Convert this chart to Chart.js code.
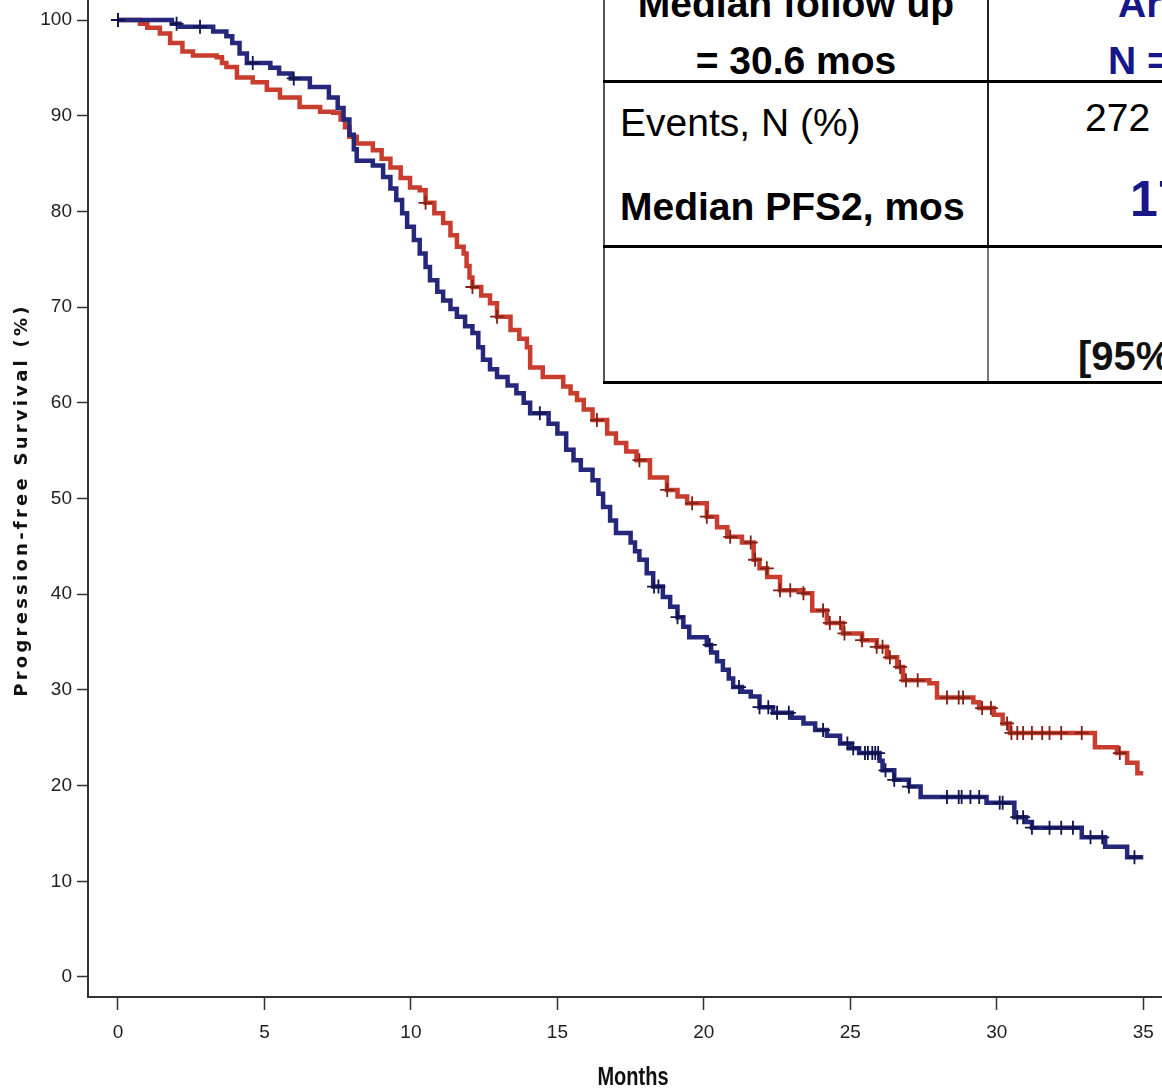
<!DOCTYPE html>
<html>
<head>
<meta charset="utf-8">
<script src="https://cdn.jsdelivr.net/npm/chart.js@4.4.1/dist/chart.umd.min.js"></script>
<style>
  html, body { margin: 0; padding: 0; background: #fff; overflow: hidden; }
  #wrap { position: relative; width: 1162px; height: 1091px; }
  #km { position: absolute; left: 0; top: 0; }
  /* summary table pasted over the top right of the plot */
  #tbl { position: absolute; left: 603px; top: 0; width: 559px; height: 385px;
         background: #fff; overflow: hidden; font-family: 'Liberation Sans', Arial, sans-serif; color: #000; }
  #tbl .ln { position: absolute; background: #000; }
  #tbl .tx { position: absolute; line-height: 1; white-space: nowrap; }
  #tbl .b { font-weight: bold; }
  #tbl .blue { color: #17178a; }
</style>
</head>
<body>
<div id="wrap">
  <canvas id="km" width="1162" height="1091"></canvas>
  <div id="tbl">
    <div class="ln" style="left:0;top:0;width:2px;height:384px;background:#555"></div>
    <div class="ln" style="left:384px;top:0;width:2px;height:247px;background:#222"></div>
    <div class="ln" style="left:384px;top:247px;width:2px;height:136px;background:#777"></div>
    <div class="ln" style="left:0;top:80px;width:559px;height:3px"></div>
    <div class="ln" style="left:0;top:245px;width:559px;height:3px"></div>
    <div class="ln" style="left:0;top:381px;width:559px;height:3px"></div>

    <div class="tx b" style="left:0;width:386px;text-align:center;top:-16px;font-size:39px">Median follow up</div>
    <div class="tx b" style="left:0;width:386px;text-align:center;top:41px;font-size:39px">= 30.6 mos</div>
    <div class="tx" style="left:17px;top:103px;font-size:39px">Events, N (%)</div>
    <div class="tx b" style="left:17px;top:187px;font-size:39px">Median PFS2, mos</div>

    <div class="tx b blue" style="left:515px;top:-16px;font-size:39px">Ar</div>
    <div class="tx b blue" style="left:505px;top:41px;font-size:39px">N =</div>
    <div class="tx" style="left:482px;top:98px;font-size:39px">272</div>
    <div class="tx b blue" style="left:527px;top:174px;font-size:50px">17</div>
    <div class="tx b" style="left:475px;top:336px;font-size:40px;color:#111">[95%</div>
  </div>
</div>
<script>
// Kaplan-Meier steps (months, % progression-free)
const redTimes = [0, 0.75, 1.0, 1.43, 1.78, 2.2, 2.56, 3.37, 3.55, 3.7, 4.06, 4.6, 5.08, 5.53, 6.2, 6.9, 7.35, 7.6, 7.75, 7.9,
  8.15, 8.7, 9.0, 9.3, 9.65, 9.97, 10.3, 10.5, 10.8, 11.1, 11.35, 11.57, 11.8, 11.9, 12.0, 12.1, 12.4, 12.7, 12.94, 13.4,
  13.7, 13.96, 14.07, 14.5, 15.2, 15.45, 15.67, 15.9, 16.2, 16.7, 17.0, 17.35, 17.7, 18.16, 18.74, 19.1, 19.43, 20.1, 20.45, 20.8,
  21.3, 21.7, 21.9, 22.16, 22.6, 23.4, 23.7, 24.2, 24.75, 25.4, 25.9, 26.25, 26.6, 26.8, 27.7, 27.96, 29.2, 29.4, 29.9, 30.2,
  30.45, 33.35, 34.1, 34.45, 34.8, 35.0];
const redSurv = [100, 99.6, 99.2, 98.6, 97.6, 96.7, 96.3, 96.1, 95.5, 95.1, 94.0, 93.5, 92.7, 91.9, 90.9, 90.4, 90.3, 89.6, 88.8, 87.8,
  87.1, 86.4, 85.5, 84.6, 83.5, 82.5, 82.2, 80.9, 79.8, 78.8, 77.5, 76.3, 75.6, 74.3, 73.1, 72.1, 71.2, 70.4, 69.0, 67.6,
  66.7, 65.8, 63.7, 62.7, 61.7, 61.0, 60.3, 59.3, 58.2, 56.8, 55.8, 54.9, 54.0, 52.2, 50.9, 50.2, 49.5, 48.1, 47.0, 46.0,
  45.4, 43.6, 42.7, 41.8, 40.4, 40.1, 38.3, 37.0, 35.9, 35.2, 34.5, 33.4, 32.4, 31.0, 30.7, 29.2, 28.7, 28.1, 27.4, 26.5,
  25.5, 24.0, 23.4, 22.4, 21.3, 21.3];

const blueTimes = [0, 1.84, 2.1, 3.25, 3.7, 3.9, 4.15, 4.4, 5.2, 5.5, 5.9, 6.55, 7.2, 7.5, 7.7, 7.9, 8.05, 8.15, 8.7, 9.05,
  9.3, 9.5, 9.7, 9.87, 10.1, 10.3, 10.5, 10.65, 10.9, 11.1, 11.35, 11.57, 11.85, 12.1, 12.3, 12.46, 12.7, 12.94, 13.3, 13.6,
  13.85, 14.07, 14.7, 15.0, 15.3, 15.55, 15.8, 16.2, 16.4, 16.56, 16.8, 17.0, 17.5, 17.65, 17.8, 18.05, 18.27, 18.6, 18.85, 19.1,
  19.3, 19.5, 20.1, 20.25, 20.45, 20.65, 20.85, 21.0, 21.3, 21.6, 21.9, 22.36, 23.0, 23.4, 23.8, 24.2, 24.65, 25.0, 25.3, 26.0,
  26.1, 26.5, 27.0, 27.4, 29.65, 30.6, 31.0, 31.2, 32.9, 33.7, 34.45, 35.0];
const blueSurv = [100, 99.6, 99.3, 98.8, 98.3, 97.6, 96.5, 95.5, 95.0, 94.4, 93.9, 93.0, 91.9, 90.8, 89.6, 88.0, 86.5, 85.3, 84.8, 83.6,
  82.4, 81.2, 79.8, 78.4, 77.0, 75.6, 74.2, 72.8, 71.6, 70.7, 69.8, 69.0, 68.0, 67.3, 65.8, 64.5, 63.5, 62.7, 61.8, 61.0,
  60.0, 58.9, 57.8, 56.8, 55.1, 54.0, 53.0, 51.9, 50.5, 49.1, 47.7, 46.4, 45.4, 44.5, 43.6, 42.2, 40.8, 39.7, 38.7, 37.6,
  36.6, 35.5, 34.7, 33.9, 33.0, 32.1, 31.2, 30.3, 29.8, 29.3, 28.2, 27.6, 27.1, 26.5, 25.8, 25.2, 24.4, 23.9, 23.4, 22.6,
  21.6, 20.6, 19.9, 18.8, 18.2, 16.7, 16.2, 15.6, 14.6, 13.6, 12.5, 12.5];

// censored observations (months)
const redCensor = [0, 10.5, 12.1, 12.94, 16.35, 17.8, 18.75, 19.6, 20.1, 20.9, 21.6, 21.75, 22.15, 22.6, 22.95, 23.4, 24.07, 24.3,
  24.65, 24.8, 25.4, 25.9, 26.1, 26.35, 26.7, 26.9, 27.3, 28.3, 28.7, 28.85, 29.5, 29.8, 30.35, 30.5, 30.7, 30.9, 31.2, 31.55,
  31.8, 32.2, 32.9, 34.2];
const blueCensor = [0, 2.0, 2.8, 4.6, 6.0, 14.4, 18.3, 18.45, 19.1, 20.2, 21.2, 21.9, 22.2, 22.5, 22.9, 24.07, 24.9, 25.1, 25.5,
  25.6, 25.75, 25.85, 25.95, 26.2, 26.5, 27.0, 28.3, 28.7, 28.8, 29.1, 29.4, 30.1, 30.2, 30.7, 30.9, 31.2, 31.8, 32.2, 32.6,
  33.2, 33.6, 34.7];

const xTicks = [0, 5, 10, 15, 20, 25, 30, 35];
const yTicks = [0, 10, 20, 30, 40, 50, 60, 70, 80, 90, 100];

const xTitle = 'Months';
const yTitle = 'Progression-free Survival (%)';

// survival value at time t on a step curve
function stepAt(times, surv, t) {
    let s = surv[0];
    for (let i = 0; i < times.length; i++) {
        if (times[i] <= t) s = surv[i];
        else break;
    }
    return s;
}

const toPoints = (times, surv) => times.map((t, i) => ({ x: t, y: surv[i] }));
const censorPoints = (cens, times, surv) => cens.map(t => ({ x: t, y: stepAt(times, surv, t) }));

const RED = '#c83d2d';
const BLUE = '#25277a';
const tickFont = { family: "'Liberation Sans', Arial, sans-serif", size: 19 };

// no automatic label padding, so the plot box fills the picture edge to edge
function noPad(s) {
    s.paddingLeft = 0;
    s.paddingRight = 0;
    s.paddingTop = 0;
    s.paddingBottom = 0;
}

// axis titles are drawn by hand: a narrow "Months" and a spaced-out y title
const axisTitles = {
    id: 'axisTitles',
    afterDraw(chart) {
        const ctx = chart.ctx;
        ctx.save();
        ctx.fillStyle = '#111';
        ctx.textAlign = 'center';
        ctx.textBaseline = 'middle';

        ctx.save();
        ctx.translate(633, 1078);
        ctx.scale(0.8, 1);
        ctx.font = "bold 25px 'Liberation Sans', Arial, sans-serif";
        ctx.fillText(xTitle, 0, 0);
        ctx.restore();

        ctx.translate(22, 500);
        ctx.rotate(-Math.PI / 2);
        ctx.font = "bold 18px 'DejaVu Sans', sans-serif";
        const w = ctx.measureText(yTitle).width;
        ctx.letterSpacing = Math.max(0, (390 - w) / (yTitle.length - 1)).toFixed(2) + 'px';
        ctx.fillText(yTitle, 0, 0);
        ctx.restore();
    }
};

const ctx = document.getElementById('km').getContext('2d');
const chart = new Chart(ctx, {
    type: 'scatter',
    data: {
        datasets: [
            {
                data: toPoints(redTimes, redSurv),
                showLine: true,
                stepped: true,
                borderColor: RED,
                borderWidth: 4.5,
                pointRadius: 0,
                order: 4
            },
            {
                data: toPoints(blueTimes, blueSurv),
                showLine: true,
                stepped: true,
                borderColor: BLUE,
                borderWidth: 4.5,
                pointRadius: 0,
                order: 3
            },
            {
                data: censorPoints(redCensor, redTimes, redSurv),
                pointStyle: 'cross',
                pointRadius: 7,
                borderColor: '#7e2016',
                borderWidth: 1.8,
                order: 2
            },
            {
                data: censorPoints(blueCensor, blueTimes, blueSurv),
                pointStyle: 'cross',
                pointRadius: 7,
                borderColor: '#10124c',
                borderWidth: 1.8,
                order: 1
            }
        ]
    },
    options: {
        responsive: false,
        animation: false,
        layout: { padding: 0, autoPadding: false },
        plugins: {
            legend: { display: false },
            tooltip: { enabled: false }
        },
        scales: {
            x: {
                type: 'linear',
                min: -1.024,
                max: 35.64,
                afterBuildTicks: s => { s.ticks = xTicks.map(v => ({ value: v })); },
                afterFit: s => { s.height = 94; noPad(s); },
                grid: { drawOnChartArea: false, drawTicks: true, tickLength: 13, tickColor: '#333', tickWidth: 1.5 },
                border: { display: true, color: '#333', width: 2 },
                ticks: { font: tickFont, color: '#222', padding: 11, maxRotation: 0 }
            },
            y: {
                type: 'linear',
                min: -2.09,
                max: 102.09,
                afterBuildTicks: s => { s.ticks = yTicks.map(v => ({ value: v })); },
                afterFit: s => { s.width = 88; noPad(s); },
                grid: { drawOnChartArea: false, drawTicks: true, tickLength: 11, tickColor: '#333', tickWidth: 1.5 },
                border: { display: true, color: '#333', width: 2 },
                ticks: { font: tickFont, color: '#222', padding: 5 }
            }
        }
    },
    plugins: [axisTitles]
});
</script>
</body>
</html>
